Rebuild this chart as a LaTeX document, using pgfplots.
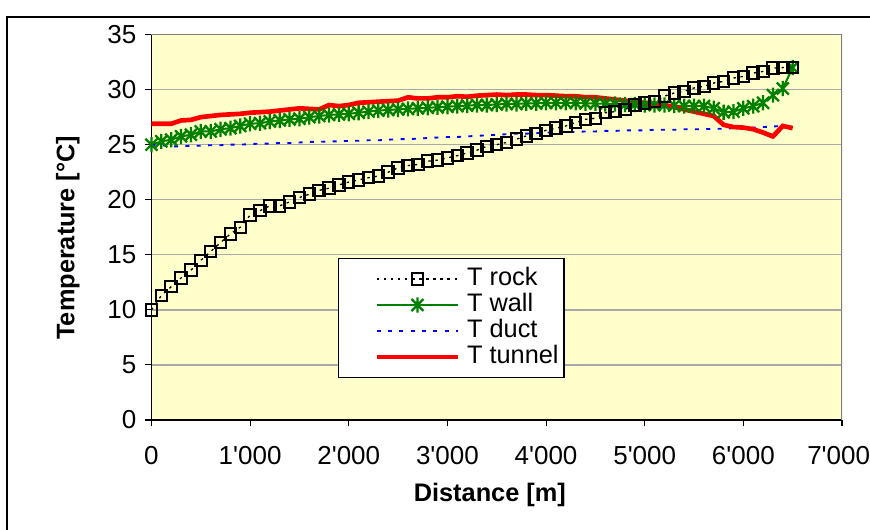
\documentclass[border=0pt]{standalone}
\usepackage{pgfplots}
\pgfplotsset{compat=1.18}
\usepackage{pgfplotstable}
\usepackage{fontspec}
\setmainfont{Liberation Sans}
\definecolor{plotbg}{RGB}{255,255,204}
\definecolor{gridc}{RGB}{170,170,170}
\definecolor{wallg}{RGB}{0,128,0}
\newcommand{\fs}{\fontsize{19}{22}\selectfont}
\newcommand{\ft}{\fontsize{19.5}{23}\selectfont}

\pgfdeclareplotmark{xstar}{%
  \pgfpathmoveto{\pgfqpoint{-0.75\pgfplotmarksize}{-0.75\pgfplotmarksize}}%
  \pgfpathlineto{\pgfqpoint{0.75\pgfplotmarksize}{0.75\pgfplotmarksize}}%
  \pgfpathmoveto{\pgfqpoint{-0.75\pgfplotmarksize}{0.75\pgfplotmarksize}}%
  \pgfpathlineto{\pgfqpoint{0.75\pgfplotmarksize}{-0.75\pgfplotmarksize}}%
  \pgfpathmoveto{\pgfqpoint{0pt}{-0.95\pgfplotmarksize}}%
  \pgfpathlineto{\pgfqpoint{0pt}{0.95\pgfplotmarksize}}%
  \pgfusepathqstroke}

\pgfplotstableread{
x rock wall tunnel
0 10.0 25.0 26.9
100 11.3 25.3 26.9
200 12.1 25.45 26.9
300 12.9 25.75 27.2
400 13.6 25.9 27.25
500 14.5 26.2 27.5
600 15.3 26.2 27.6
700 16.1 26.4 27.7
800 16.9 26.5 27.75
900 17.5 26.7 27.8
1000 18.6 26.9 27.9
1100 19.0 26.95 27.95
1200 19.45 27.1 28.0
1300 19.45 27.2 28.1
1400 19.8 27.3 28.2
1500 20.2 27.35 28.3
1600 20.5 27.5 28.25
1700 20.85 27.6 28.2
1800 21.05 27.7 28.6
1900 21.35 27.75 28.5
2000 21.6 27.8 28.6
2100 21.8 27.9 28.8
2200 22.0 28.0 28.85
2300 22.15 28.1 28.9
2400 22.5 28.15 28.95
2500 22.9 28.2 29.0
2600 23.1 28.25 29.3
2700 23.2 28.3 29.2
2800 23.5 28.35 29.2
2900 23.6 28.4 29.3
3000 23.8 28.45 29.3
3100 24.0 28.5 29.4
3200 24.25 28.55 29.35
3300 24.5 28.6 29.45
3400 24.85 28.6 29.5
3500 25.0 28.65 29.55
3600 25.2 28.7 29.5
3700 25.5 28.7 29.55
3800 25.8 28.75 29.55
3900 26.0 28.75 29.5
4000 26.3 28.8 29.5
4100 26.5 28.8 29.45
4200 26.7 28.8 29.4
4300 27.0 28.8 29.4
4400 27.3 28.75 29.3
4500 27.4 28.75 29.3
4600 27.9 28.7 29.2
4700 28.0 28.7 29.1
4800 28.2 28.65 29.0
4900 28.6 28.65 28.9
5000 28.8 28.6 28.8
5100 28.9 28.6 28.7
5200 29.4 28.6 28.6
5300 29.7 28.55 28.4
5400 29.85 28.5 28.2
5500 30.15 28.5 28.0
5600 30.3 28.5 27.8
5700 30.6 28.3 27.6
5800 30.75 27.95 26.8
5900 31.05 28.0 26.6
6000 31.2 28.3 26.55
6100 31.5 28.5 26.4
6200 31.65 28.8 26.1
6300 31.95 29.5 25.75
6400 32.0 30.1 26.7
6500 32.0 32.0 26.5
}\maintable

\pgfplotstableread{
x duct
0 25.0
100 24.95
200 24.85
300 24.85
400 24.9
500 24.9
600 24.95
700 24.95
800 25.0
900 25.0
1000 25.05
1100 25.1
1200 25.1
1300 25.15
1400 25.15
1500 25.2
1600 25.25
1700 25.25
1800 25.3
1900 25.3
2000 25.35
2100 25.35
2200 25.4
2300 25.4
2400 25.45
2500 25.5
2600 25.5
2700 25.55
2800 25.6
2900 25.65
3000 25.7
3100 25.7
3200 25.75
3300 25.8
3400 25.85
3500 25.9
3600 25.95
3700 26.0
3800 26.0
3900 26.05
4000 26.1
4100 26.1
4200 26.15
4300 26.15
4400 26.2
4500 26.2
4600 26.25
4700 26.25
4800 26.3
4900 26.3
5000 26.3
5100 26.35
5200 26.35
5300 26.35
5400 26.4
5500 26.4
5600 26.4
5700 26.45
5800 26.45
5900 26.5
6000 26.5
6100 26.55
6200 26.6
6300 26.65
6400 26.7
}\ducttable

\pgfplotsset{
  rockline/.style={black, line width=1pt, dash pattern=on 1.8pt off 3.5pt},
  rockmark/.style={black, mark=square, mark size=4.3pt, mark options={solid, line width=1.5pt, fill=none}},
  wallline/.style={wallg, line width=1.5pt},
  wallmark/.style={wallg, mark=xstar, mark size=6pt, mark options={solid, line width=1.7pt}},
  ductline/.style={blue, line width=1.4pt, dash pattern=on 3pt off 5.5pt},
  tunnelline/.style={red, line width=3.5pt},
}

\begin{document}
\begin{tikzpicture}
\useasboundingbox (0,0) rectangle (652.5pt,396.75pt);
\draw[line width=1.1pt] (5.25pt,-10pt) -- (5.25pt,384pt) -- (670pt,384pt);
\begin{axis}[
  at={(113.6pt,81.75pt)}, anchor=south west,
  scale only axis, width=517.9pt, height=289.1pt,
  xmin=0, xmax=7000, ymin=0, ymax=35,
  xtick={0,1000,...,7000},
  xticklabels={0,1\textquotesingle000,2\textquotesingle000,3\textquotesingle000,4\textquotesingle000,5\textquotesingle000,6\textquotesingle000,\kern-5pt 7\textquotesingle000},
  ytick={0,5,...,35},
  axis x line*=bottom, axis y line*=left,
  axis line style={-, line width=0.9pt, black},
  tick align=outside, major tick length=4.5pt,
  tick style={black, line width=0.8pt},
  ymajorgrids, grid style={gridc, line width=1pt},
  axis background/.style={fill=plotbg},
  ticklabel style={font=\ft},
  /pgf/number format/assume math mode=true,
  xticklabel shift=12pt,
  yticklabel shift=3.4pt,
  xlabel={Distance [m]}, ylabel={Temperature [°C]},
  label style={font=\fs\bfseries},
  xlabel style={at={(axis description cs:0.49,-0.195)}, anchor=center},
  ylabel style={at={(axis description cs:-0.121,0.473)}, anchor=center},
  legend style={at={(axis description cs:0.270,0.420)}, anchor=north west,
    draw=black, line width=0.8pt, fill=white, font=\fs,
    inner xsep=4pt, inner ysep=6.5pt, row sep=2pt,
    nodes={inner sep=0pt, text height=13.5pt, text depth=4pt}},
  legend cell align=left,
  legend image code/.code={
    \path (-23pt,0pt);
    \draw[mark repeat=2,mark phase=2] plot coordinates {(0pt,0pt) (30.5pt,0pt) (61pt,0pt)};
    \path (66pt,0pt);
  },
]
\draw[gray, line width=0.9pt] (rel axis cs:0,1) -- (rel axis cs:1,1) -- (rel axis cs:1,0);
\addplot[rockline, forget plot] table[x=x, y=rock] {\maintable};
\addplot[wallline, forget plot] table[x=x, y=wall] {\maintable};
\addplot[ductline, forget plot] table[x=x, y=duct] {\ducttable};
\addplot[tunnelline, forget plot] table[x=x, y=tunnel] {\maintable};
\addplot[wallg, only marks, mark=xstar, mark size=6pt, mark options={solid, line width=1.7pt}, forget plot] table[x=x, y=wall] {\maintable};
\addplot[black, only marks, mark=square, mark size=4.3pt, mark options={solid, line width=1.5pt}, forget plot] table[x=x, y=rock] {\maintable};
\addlegendimage{rockline, rockmark}
\addlegendentry{T rock}
\addlegendimage{wallline, wallmark}
\addlegendentry{T wall}
\addlegendimage{ductline}
\addlegendentry{T duct}
\addlegendimage{tunnelline}
\addlegendentry{T tunnel}
\end{axis}
\end{tikzpicture}
\end{document}
